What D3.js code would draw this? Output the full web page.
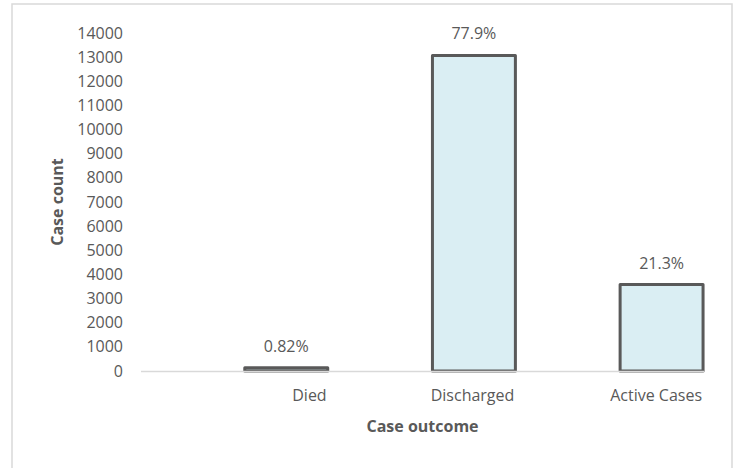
<!DOCTYPE html>
<html><head><meta charset="utf-8">
<script src="https://cdn.jsdelivr.net/npm/d3@7"></script>
<style>
html,body{margin:0;padding:0;background:#fff;}
svg{display:block;font-family:"Open Sans",sans-serif;}
</style></head>
<body>
<svg id="chart" width="737" height="468"></svg>
<script>
const categories = ["Died", "Discharged", "Active Cases"];
const caseCounts = [138, 13070, 3580];
const percentLabels = ["0.82%", "77.9%", "21.3%"];
const yTicks = [0,1000,2000,3000,4000,5000,6000,7000,8000,9000,10000,11000,12000,13000,14000];
const yTitle = "Case count";
const xTitle = "Case outcome";

const svg = d3.select("#chart");
const plot = {left: 141, right: 704, top: 33, bottom: 371};
const textColor = "#595959";

// frame
svg.append("rect").attr("x", 12).attr("y", 4).attr("width", 720).attr("height", 480)
  .attr("fill", "none").attr("stroke", "#d9d9d9").attr("stroke-width", 1.5);

const x = d3.scaleBand().domain(categories).range([plot.left, plot.right]).padding(0);
const y = d3.scaleLinear().domain([0, 14000]).range([plot.bottom, plot.top]);

// y axis labels (no line)
const yAxis = d3.axisLeft(y).tickValues(yTicks).tickSize(0).tickPadding(18).tickFormat(d3.format("d"));
const gy = svg.append("g").attr("transform", `translate(${plot.left},0)`).call(yAxis);
gy.select(".domain").remove();
gy.selectAll("text").attr("font-family", "'Open Sans',sans-serif").attr("font-size", 16).attr("fill", textColor);

// bars
const data = categories.map((c, i) => ({c, v: caseCounts[i], p: percentLabels[i]}));
const bw = x.bandwidth();
svg.append("g").selectAll("rect").data(data).join("rect")
  .attr("x", d => x(d.c) + bw * 0.553)
  .attr("width", bw * 0.442)
  .attr("y", d => y(d.v))
  .attr("height", d => y(0) - y(d.v))
  .attr("fill", "#DAEEF3")
  .attr("stroke", "#595959")
  .attr("stroke-width", 3)
  .attr("stroke-linejoin", "round");

// x axis line
svg.append("line").attr("x1", plot.left).attr("x2", plot.right)
  .attr("y1", y(0) + 0.5).attr("y2", y(0) + 0.5)
  .attr("stroke", "#d9d9d9").attr("stroke-width", 1.5);

// percent labels
svg.append("g").selectAll("text").data(data).join("text")
  .attr("x", d => x(d.c) + bw * 0.553 + bw * 0.221)
  .attr("y", d => y(d.v) - 16)
  .attr("text-anchor", "middle")
  .attr("font-size", 16).attr("fill", textColor)
  .text(d => d.p);

// category labels
svg.append("g").selectAll("text").data(categories).join("text")
  .attr("x", d => x(d) + bw - 2)
  .attr("y", y(0) + 30)
  .attr("text-anchor", "end")
  .attr("font-size", 16).attr("fill", textColor)
  .text(d => d);

// axis titles
svg.append("text").attr("x", (plot.left + plot.right) / 2).attr("y", 432)
  .attr("text-anchor", "middle").attr("font-size", 16).attr("font-weight", "bold")
  .attr("fill", textColor).text(xTitle);
svg.append("text").attr("transform", `translate(63,${(plot.top + plot.bottom) / 2}) rotate(-90)`)
  .attr("text-anchor", "middle").attr("font-size", 16).attr("font-weight", "bold")
  .attr("fill", textColor).text(yTitle);
</script>
</body></html>
